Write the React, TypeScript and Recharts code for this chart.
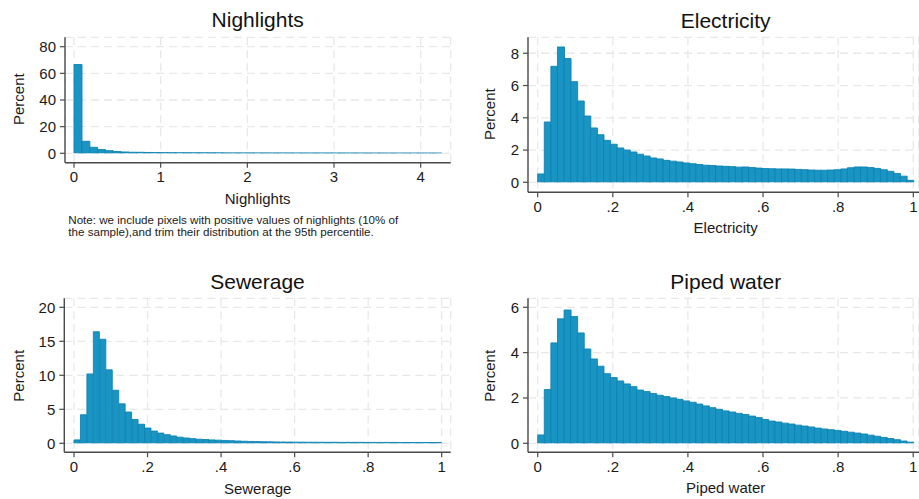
import { Bar, BarChart, CartesianGrid, XAxis, YAxis } from 'recharts';

const W = 919;
const H = 499;
const FONT = '"Liberation Sans", Arial, Helvetica, sans-serif';
const BAR_FILL = '#1a95c3';
const BAR_EDGE = '#0c83b3';
const GRID = '#e8e8e8';
const AXIS = '#4a4a4a';
const INK = '#1a1a1a';
const Y_W = 50;
const X_H = 30;

// percent of pixels per bin (equal-width bins from 0 to the max of each variable)
const NIGHT_PCT = [
  66.6, 9.0, 4.5, 2.8, 2.0, 1.3, 1.0, 0.78, 0.75, 0.62,
  0.55, 0.5, 0.46, 0.42, 0.4, 0.38, 0.36, 0.34, 0.32, 0.3,
  0.29, 0.28, 0.27, 0.26, 0.25, 0.24, 0.23, 0.22, 0.21, 0.2,
  0.2, 0.19, 0.18, 0.18, 0.17, 0.16, 0.16, 0.15, 0.15, 0.14,
  0.14, 0.13, 0.13, 0.12, 0.12, 0.11, 0.11,
];
const ELEC_PCT = [
  0.52, 3.74, 7.19, 8.39, 7.67, 6.24, 5.04, 4.11, 3.37, 2.95,
  2.6, 2.36, 2.13, 2.0, 1.88, 1.74, 1.63, 1.51, 1.45, 1.36,
  1.31, 1.26, 1.2, 1.15, 1.1, 1.06, 1.04, 1.01, 0.99, 0.97,
  0.94, 0.95, 0.91, 0.88, 0.85, 0.84, 0.83, 0.83, 0.82, 0.8,
  0.78, 0.76, 0.75, 0.75, 0.76, 0.78, 0.83, 0.9, 0.95, 0.95,
  0.91, 0.86, 0.78, 0.68, 0.55, 0.38, 0.12,
];
const SEWER_PCT = [
  0.5, 4.2, 10.2, 16.4, 15.3, 10.8, 7.8, 5.8, 4.6, 3.5,
  2.8, 2.25, 1.8, 1.5, 1.27, 1.08, 0.9, 0.78, 0.68, 0.6,
  0.55, 0.5, 0.46, 0.42, 0.38, 0.34, 0.3, 0.27, 0.25, 0.23,
  0.21, 0.2, 0.19, 0.18, 0.17, 0.17, 0.16, 0.16, 0.15, 0.15,
  0.15, 0.14, 0.14, 0.14, 0.14, 0.13, 0.13, 0.13, 0.13, 0.13,
  0.12, 0.12, 0.12, 0.12, 0.12, 0.12, 0.12,
];
const WATER_PCT = [
  0.37, 2.37, 4.43, 5.49, 5.88, 5.59, 4.87, 4.16, 3.72, 3.4,
  3.07, 2.9, 2.75, 2.62, 2.5, 2.35, 2.28, 2.2, 2.12, 2.06,
  2.0, 1.94, 1.87, 1.81, 1.73, 1.65, 1.57, 1.5, 1.43, 1.38,
  1.32, 1.27, 1.2, 1.14, 1.05, 0.98, 0.94, 0.89, 0.85, 0.8,
  0.76, 0.72, 0.67, 0.63, 0.6, 0.56, 0.53, 0.49, 0.45, 0.41,
  0.36, 0.31, 0.26, 0.21, 0.16, 0.1, 0.05,
];

const NIGHT_MAX = 4.24;
const SHARE_MAX = 1;

const NIGHT_X_TICKS = [0, 1, 2, 3, 4];
const SHARE_X_TICKS = [0, 0.2, 0.4, 0.6, 0.8, 1];
const NIGHT_Y_TICKS = [0, 20, 40, 60, 80];
const ELEC_Y_TICKS = [0, 2, 4, 6, 8];
const SEWER_Y_TICKS = [0, 5, 10, 15, 20];
const WATER_Y_TICKS = [0, 2, 4, 6];

const NOTE_LINES = [
  'Note: we include pixels with positive values of nighlights (10% of',
  'the sample),and trim their distribution at the 95th percentile.',
];

interface Box {
  left: number;
  right: number;
  top: number;
  bottom: number;
}

interface PanelProps {
  values: number[];
  xMax: number;
  xTicks: number[];
  yTicks: number[];
  yTop?: number;
  box: Box;
  padX: [number, number];
  padY: [number, number];
}

// Stata-style labels: 0, .2, .4 ... 1
const fmtShare = (v: number) => (v === 0 || v === 1 ? String(v) : `.${Math.round(v * 10)}`);

function HistPanel({ values, xMax, xTicks, yTicks, yTop, box, padX, padY }: PanelProps) {
  const rows = values.map((pct, i) => ({ bin: i, x: ((i + 0.5) * xMax) / values.length, pct }));
  const plotW = box.right - box.left;
  const xTop = xTicks[xTicks.length - 1];
  const pxPerUnit = (plotW - padX[0] - padX[1]) / xTop;
  const binPadRight = plotW - padX[0] - xMax * pxPerUnit;
  const tickFont = { fill: INK, fontSize: 15, fontFamily: FONT };
  return (
    <div style={{ position: 'absolute', left: 0, top: 0 }}>
      <BarChart
        width={W}
        height={H}
        data={rows}
        barCategoryGap={0}
        barGap={0}
        margin={{ top: box.top, left: box.left - Y_W, right: W - box.right, bottom: H - box.bottom - X_H }}
      >
        <XAxis
          xAxisId="bin"
          dataKey="bin"
          type="category"
          hide
          height={0}
          padding={{ left: padX[0], right: binPadRight }}
        />
        <XAxis
          xAxisId="val"
          dataKey="x"
          type="number"
          domain={[0, xTop]}
          allowDataOverflow
          ticks={xTicks}
          interval={0}
          tickFormatter={xTop === 1 ? fmtShare : (v: number) => String(v)}
          padding={{ left: padX[0], right: padX[1] }}
          height={X_H}
          tick={tickFont}
          tickSize={5}
          tickMargin={4}
          tickLine={{ stroke: AXIS, strokeWidth: 1.2 }}
          axisLine={{ stroke: AXIS, strokeWidth: 1.4 }}
        />
        <YAxis
          type="number"
          domain={[0, yTop ?? yTicks[yTicks.length - 1]]}
          allowDataOverflow
          ticks={yTicks}
          interval={0}
          width={Y_W}
          padding={{ top: padY[0], bottom: padY[1] }}
          tick={tickFont}
          tickSize={5}
          tickMargin={4}
          tickLine={{ stroke: AXIS, strokeWidth: 1.2 }}
          axisLine={{ stroke: AXIS, strokeWidth: 1.4 }}
        />
        <CartesianGrid xAxisId="val" stroke={GRID} strokeWidth={1.3} strokeDasharray="8 5" />
        <Bar
          xAxisId="bin"
          dataKey="pct"
          fill={BAR_FILL}
          stroke={BAR_EDGE}
          strokeWidth={0.9}
          isAnimationActive={false}
        />
      </BarChart>
    </div>
  );
}

export default function App() {
  const title = { fontSize: 21, fill: '#111', textAnchor: 'middle' as const };
  const axisTitle = { fontSize: 15, fill: INK, textAnchor: 'middle' as const };
  return (
    <div style={{ position: 'absolute', left: 0, top: 0, width: W, height: H, background: '#fff', fontFamily: FONT }}>
      <HistPanel
        values={NIGHT_PCT}
        xMax={NIGHT_MAX}
        xTicks={NIGHT_X_TICKS}
        yTicks={NIGHT_Y_TICKS}
        box={{ left: 65, right: 450.7, top: 37.3, bottom: 162.7 }}
        padX={[9, 30]}
        padY={[9.4, 9.4]}
      />
      <HistPanel
        values={ELEC_PCT}
        xMax={SHARE_MAX}
        xTicks={SHARE_X_TICKS}
        yTicks={ELEC_Y_TICKS}
        yTop={8.99}
        box={{ left: 528, right: 919, top: 37.3, bottom: 192.3 }}
        padX={[9.7, 5.7]}
        padY={[0, 10]}
      />
      <HistPanel
        values={SEWER_PCT}
        xMax={SHARE_MAX}
        xTicks={SHARE_X_TICKS}
        yTicks={SEWER_Y_TICKS}
        box={{ left: 64.3, right: 450.7, top: 298.3, bottom: 452.3 }}
        padX={[9.7, 9]}
        padY={[9, 9]}
      />
      <HistPanel
        values={WATER_PCT}
        xMax={SHARE_MAX}
        xTicks={SHARE_X_TICKS}
        yTicks={WATER_Y_TICKS}
        box={{ left: 528, right: 919, top: 298.3, bottom: 452.3 }}
        padX={[9.7, 5.8]}
        padY={[9, 9]}
      />
      <svg
        width={W}
        height={H}
        style={{ position: 'absolute', left: 0, top: 0, pointerEvents: 'none', fontFamily: FONT }}
      >
        <text x={257.7} y={27.3} {...title}>Nighlights</text>
        <text x={725.7} y={27.7} {...title}>Electricity</text>
        <text x={257.5} y={289} {...title}>Sewerage</text>
        <text x={725.8} y={289} {...title}>Piped water</text>

        <text transform="translate(24 99.2) rotate(-90)" {...axisTitle}>Percent</text>
        <text transform="translate(495 114.2) rotate(-90)" {...axisTitle}>Percent</text>
        <text transform="translate(24 375.8) rotate(-90)" {...axisTitle}>Percent</text>
        <text transform="translate(495 375.8) rotate(-90)" {...axisTitle}>Percent</text>

        <text x={257.7} y={204} {...axisTitle}>Nighlights</text>
        <text x={725.7} y={233.3} {...axisTitle}>Electricity</text>
        <text x={257.7} y={494} {...axisTitle}>Sewerage</text>
        <text x={725.7} y={493} {...axisTitle}>Piped water</text>

        {NOTE_LINES.map((line, i) => (
          <text key={i} x={68.3} y={223.5 + i * 12.3} fontSize={11.6} fill={INK}>
            {line}
          </text>
        ))}
      </svg>
    </div>
  );
}
